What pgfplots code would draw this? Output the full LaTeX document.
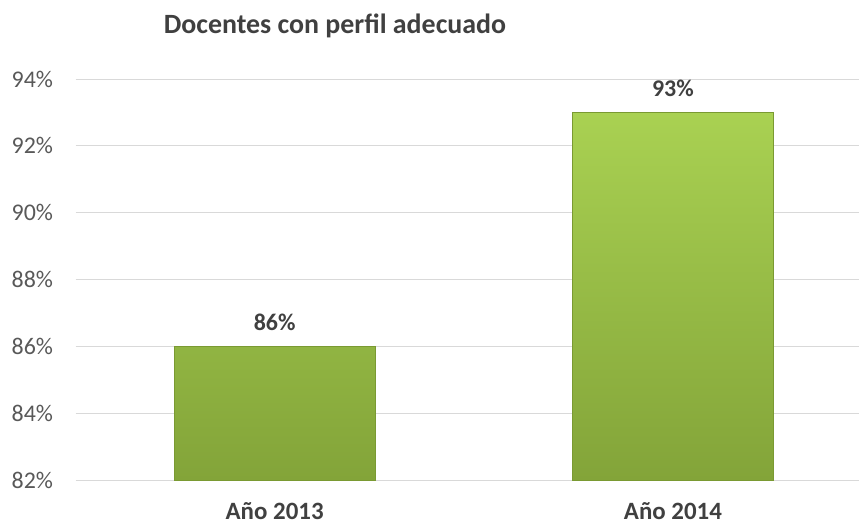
\documentclass[border=0pt]{standalone}
\usepackage{pgfplots}
\pgfplotsset{compat=1.18}
\usepackage{fontspec}
\setmainfont{Carlito}
\definecolor{tickgray}{HTML}{595959}
\definecolor{labgray}{HTML}{404040}
\definecolor{gridgray}{HTML}{D9D9D9}
\definecolor{bartop}{HTML}{A9D152}
\definecolor{barbot}{HTML}{83A439}
\definecolor{baredge}{HTML}{7A9A32}
\begin{document}
\begin{tikzpicture}
\path[use as bounding box] (0,0) rectangle (859bp,527bp);
\begin{axis}[
  at={(75.5bp,47bp)}, anchor=south west,
  scale only axis, width=783bp, height=401bp,
  y coord trafo/.code={\pgfmathparse{#1-82}},
  y coord inv trafo/.code={\pgfmathparse{#1+82}},
  ymin=82, ymax=94,
  ytick={82,84,86,88,90,92,94},
  yticklabels={82\%,84\%,86\%,88\%,90\%,92\%,94\%},
  xmin=-0.5, xmax=1.466,
  xtick={0,1},
  xticklabels={Año 2013,Año 2014},
  ymajorgrids, grid style={gridgray, line width=0.9bp},
  axis line style={draw=none},
  major tick length=0pt,
  yticklabel style={font=\fontsize{24}{28}\selectfont, text=tickgray, xshift=-19bp},
  xticklabel style={font=\bfseries\fontsize{25}{28}\selectfont, text=labgray, yshift=-19bp},
  ybar, bar width=201bp,
  point meta=explicit symbolic,
  nodes near coords,
  nodes near coords style={font=\bfseries\fontsize{24}{28}\selectfont, text=labgray, yshift=12bp},
  clip=false,
]
\addplot[draw=baredge, line width=0.8bp, top color=bartop, bottom color=barbot]
  coordinates {(0,86) [86\%] (1,93) [93\%]};
\end{axis}
\node[anchor=center, font=\bfseries\fontsize{28}{30}\selectfont, text=labgray] at (335bp,501bp) {Docentes con perfil adecuado};
\end{tikzpicture}
\end{document}
